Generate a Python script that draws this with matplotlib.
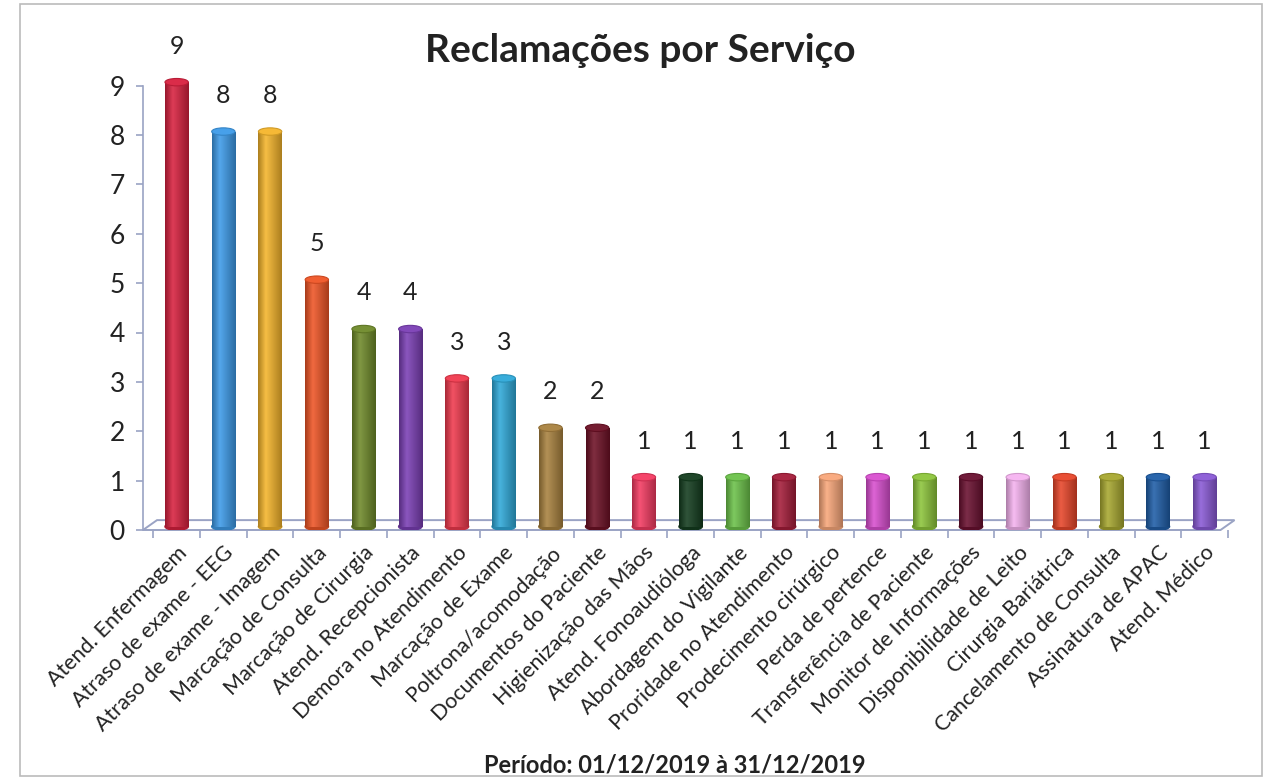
import matplotlib
matplotlib.use("Agg")
import matplotlib.pyplot as plt
import numpy as np
from matplotlib.patches import Ellipse, Rectangle, Polygon
from matplotlib.colors import to_rgb

plt.rcParams['font.family'] = ['Lato', 'DejaVu Sans']

# ---------------------------------------------------------------
# dados
# ---------------------------------------------------------------
servicos = ["Atend. Enfermagem", "Atraso de exame - EEG", "Atraso de exame - Imagem",
            "Marcação de Consulta", "Marcação de Cirurgia", "Atend. Recepcionista",
            "Demora no Atendimento", "Marcação de Exame", "Poltrona/acomodação",
            "Documentos do Paciente", "Higienização das Mãos", "Atend. Fonoaudióloga",
            "Abordagem do Vigilante", "Proridade no Atendimento", "Prodecimento cirúrgico",
            "Perda de pertence", "Transferência de Paciente", "Monitor de Informações",
            "Disponibilidade de Leito", "Cirurgia Bariátrica", "Cancelamento de Consulta",
            "Assinatura de APAC", "Atend. Médico"]
reclamacoes = [9, 8, 8, 5, 4, 4, 3, 3, 2, 2, 1, 1, 1, 1, 1, 1, 1, 1, 1, 1, 1, 1, 1]
cores = ["#d8213f", "#3d9be9", "#f5b52b", "#ef5526", "#6f8a2a", "#7b3fb5",
         "#f03a4e", "#2fa9d9", "#a9823f", "#6e1126", "#f43b62", "#143d1f",
         "#6cc24a", "#a51d3a", "#f9a77a", "#d94fd0", "#8dc53b", "#6a1030",
         "#f6b3f0", "#e8462a", "#a8a830", "#1f5ea8", "#8a5ad6"]
yticks = list(range(0, 10))

# ---------------------------------------------------------------
# figura
# ---------------------------------------------------------------
fig = plt.figure(figsize=(12.72, 7.78), dpi=100)
ax = fig.add_axes([143/1272, 1-530/778, (1228-143)/1272, (530-56)/778])

x = np.arange(len(servicos))
larg = 0.5
base = 0.07
cap = 0.15

def escurecer(c, f):
    r, g, b = to_rgb(c)
    return (r*f, g*f, b*f)

def clarear(c, f):
    r, g, b = to_rgb(c)
    return (r+(1-r)*f, g+(1-g)*f, b+(1-b)*f)

# cilindros com degradê horizontal
t = np.linspace(-1, 1, 64)
for xi, v, c in zip(x, reclamacoes, cores):
    perfil = np.interp(t, [-1, -0.35, 1], [0.0, 1.0, 0.0])
    escuro = np.array(escurecer(c, 0.7))
    claro = np.array(clarear(c, 0.12))
    img = escuro[None, :] + (claro - escuro)[None, :] * perfil[:, None]
    img = img[None, :, :]
    im = ax.imshow(img, extent=[xi-larg/2, xi+larg/2, base, base+v], aspect='auto',
                   origin='lower', zorder=3, interpolation='bilinear')
    ret = Rectangle((xi-larg/2, base), larg, v, transform=ax.transData)
    im.set_clip_path(ret)
    ax.add_patch(Ellipse((xi, base), larg, cap, color=escurecer(c, 0.8), zorder=2.9))
    ax.add_patch(Ellipse((xi, base+v), larg, cap, color=clarear(c, 0.05),
                         ec=escurecer(c, 0.85), lw=0.8, zorder=4))
    ax.annotate(str(v), (xi, base+v), xytext=(0, 26), textcoords='offset points',
                ha='center', va='center', fontsize=18, color='#222222')

# piso 3D
dx, dy = 0.3, 0.2
x0, x1 = -0.72, 22.34
piso = Polygon([(x0, 0), (x0+dx, dy), (x1+dx, dy), (x1, 0)], closed=True,
               fc='white', ec='#9aa3c4', lw=1.4, zorder=1, clip_on=False)
ax.add_patch(piso)

ax.set_xlim(x0, x1)
ax.set_ylim(0, 9.6)

ax.set_yticks(yticks)
ax.set_yticklabels([str(v) for v in yticks], fontsize=19, color='#222222')
ax.set_xticks(x)
ax.set_xticklabels(servicos, rotation=45, ha='right', rotation_mode='anchor',
                   fontsize=15.5, color='#222222')
ax.tick_params(axis='x', length=0, pad=9)
ax.set_xticks(np.arange(-0.5, len(servicos)+0.5, 1), minor=True)
ax.tick_params(axis='x', which='minor', length=6, color='#9aa3c4', width=1.2)
ax.tick_params(axis='y', length=5, color='#9aa3c4', width=1.2, pad=8)

for lado in ['top', 'right', 'bottom']:
    ax.spines[lado].set_visible(False)
ax.spines['left'].set_color('#9aa3c4')
ax.spines['left'].set_linewidth(1.2)
ax.spines['left'].set_bounds(0, 9)

fig.text(640/1272, 1-50/778, "Reclamações por Serviço", ha='center', va='center',
         fontsize=28, fontweight='bold', color='#222222')
fig.text(675/1272, 1-765/778, "Período: 01/12/2019 à 31/12/2019", ha='center',
         va='center', fontsize=17, fontweight='bold', color='#222222')

# moldura
fig.add_artist(Rectangle((20/1272, 2/778), 1242/1272, 772/778, transform=fig.transFigure,
                         fill=False, ec='#bbbbbb', lw=1.2))

fig.savefig("out.png", dpi=100)
